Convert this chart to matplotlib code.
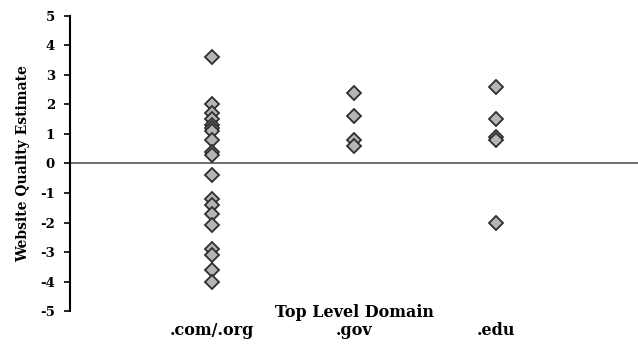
import numpy as np
import matplotlib
matplotlib.use("Agg")
import matplotlib.pyplot as plt

# values
categories = [".com/.org", ".gov", ".edu"]
com_org = [3.6, 2.0, 1.7, 1.5, 1.3, 1.2, 1.1, 0.8, 0.4, 0.3,
           -0.4, -1.2, -1.4, -1.7, -2.1, -2.9, -3.1, -3.6, -4.0]
gov = [2.4, 1.6, 0.8, 0.6]
edu = [2.6, 1.5, 0.9, 0.8, -2.0]
yticks = list(range(-5, 6))

plt.rcParams['font.family'] = ['DejaVu Serif']
plt.rcParams['font.weight'] = 'bold'

fig = plt.figure(figsize=(6.38, 3.46), dpi=100)
ax = fig.add_axes([0.11, 0.101, 0.89, 0.853])

for i, vals in enumerate([com_org, gov, edu]):
    ax.plot([i + 1] * len(vals), vals, linestyle='none', marker='D',
            markersize=7.5, markerfacecolor='#b5b5b5', markeredgecolor='#2e2e2e',
            markeredgewidth=1.3)

ax.axhline(0, color='#555555', linewidth=1.2, zorder=0)
ax.set_xlim(0, 4)
ax.set_ylim(-5, 5)
ax.set_yticks(yticks)
ax.set_yticklabels([str(v) for v in yticks], fontsize=9.5, fontweight='bold')
ax.set_xticks([])
for s in ['top', 'right', 'bottom']:
    ax.spines[s].set_visible(False)
ax.spines['left'].set_linewidth(1.5)
ax.tick_params(axis='y', direction='out', length=4, width=1.2, pad=7)
ax.set_ylabel("Website Quality Estimate", fontsize=10, fontweight='bold', labelpad=7)

ax.text(2, -5.05, "Top Level Domain", ha='center', va='center', fontsize=11.5, fontweight='bold')
for i, c in enumerate(categories):
    ax.text(i + 1, -5.66, c, ha='center', va='center', fontsize=11.5, fontweight='bold')

fig.savefig("out.png", dpi=100)
